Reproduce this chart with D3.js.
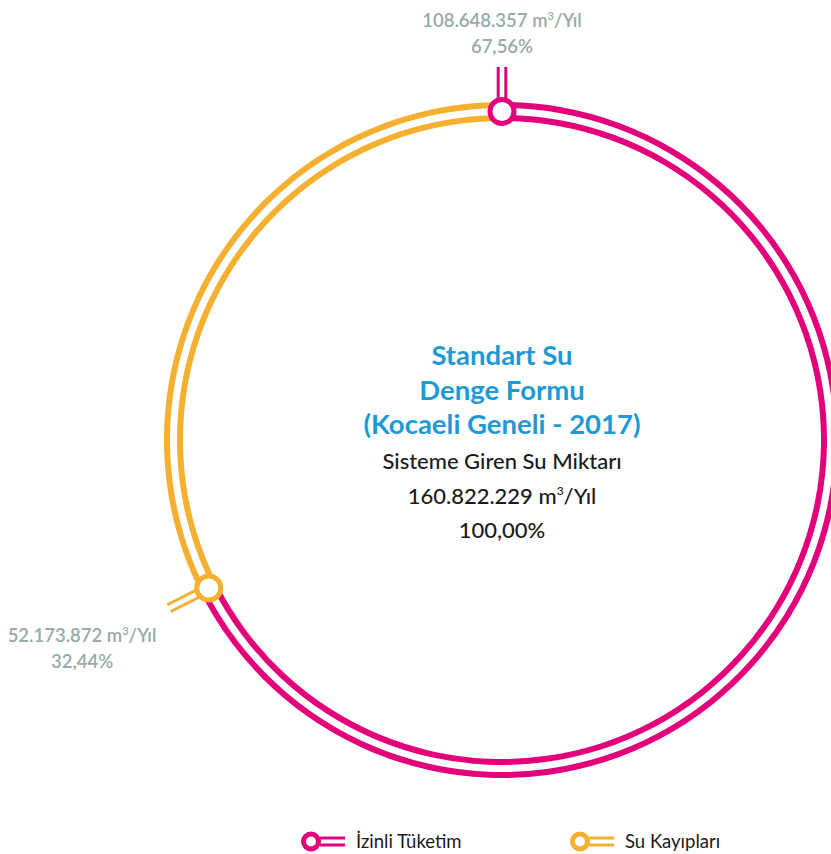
<!DOCTYPE html>
<html>
<head>
<meta charset="utf-8">
<script src="https://cdn.jsdelivr.net/npm/d3@7"></script>
<style>
  body { margin: 0; background: #fff; }
  svg text { font-family: Lato, "Noto Sans", sans-serif; }
</style>
</head>
<body>
<svg id="chart" width="831" height="854"></svg>
<script>
// water balance segments (start at top, clockwise)
const segments = ["İzinli Tüketim", "Su Kayıpları"];
const volumes = [108648357, 52173872];
const volumeLabels = ["108.648.357", "52.173.872"];
const shareLabels = ["67,56%", "32,44%"];
const colors = ["#e3007b", "#f5b031"];

const titleLines = ["Standart Su", "Denge Formu", "(Kocaeli Geneli - 2017)"];
const totalLines = ["Sisteme Giren Su Miktarı", "160.822.229", "100,00%"];

let width = 831;
let height = 854;

let cx = 502;
let cy = 440;
let rOuter = 335;
let rInner = 322;
let rNode = (rOuter + rInner) / 2;
let rTick = 373;
let band = 6;

let grey = "#98aaa9";
let blue = "#1d9ad6";
let dark = "#1a1a1a";

const svg = d3.select("#chart");

const g = svg.append("g").attr("transform", `translate(${cx},${cy})`);

const pie = d3.pie().sort(null).value(d => d)(volumes);

const arcOuter = d3.arc().innerRadius(rOuter - band / 2).outerRadius(rOuter + band / 2);
const arcInner = d3.arc().innerRadius(rInner - band / 2).outerRadius(rInner + band / 2);

pie.forEach((p, i) => {
  g.append("path").attr("d", arcOuter(p)).attr("fill", colors[i]);
  g.append("path").attr("d", arcInner(p)).attr("fill", colors[i]);
});

// point on circle for angle measured clockwise from top
const polar = (a, r) => [r * Math.sin(a), -r * Math.cos(a)];

pie.forEach((p, i) => {
  let a = p.startAngle;
  let ux = Math.sin(a), uy = -Math.cos(a);
  let px = -uy, py = ux; // perpendicular
  let off = 3.8;

  [-off, off].forEach(o => {
    let s = polar(a, rNode + 10);
    let e = polar(a, rTick);
    g.append("line")
      .attr("x1", s[0] + px * o).attr("y1", s[1] + py * o)
      .attr("x2", e[0] + px * o).attr("y2", e[1] + py * o)
      .attr("stroke", colors[i])
      .attr("stroke-width", 3);
  });

  let n = polar(a, rNode);
  g.append("circle")
    .attr("cx", n[0]).attr("cy", n[1])
    .attr("r", 12)
    .attr("fill", "#fff")
    .attr("stroke", colors[i])
    .attr("stroke-width", 5);

  // value labels
  let e = polar(a, rTick);
  let lx, ly;
  if (Math.abs(a) < 0.3) {
    lx = e[0]; ly = e[1] - 40;
  } else {
    lx = e[0] - 87; ly = e[1] + 34;
  }
  let t = g.append("text")
    .attr("x", lx).attr("y", ly)
    .attr("text-anchor", "middle")
    .attr("fill", grey)
    .attr("font-size", 18.5)
    .attr("font-weight", 600);
  t.append("tspan").text(volumeLabels[i] + " m");
  t.append("tspan").attr("font-size", 11).attr("dy", -7).text("3");
  t.append("tspan").attr("dy", 7).text("/Yıl");

  g.append("text")
    .attr("x", lx).attr("y", ly + 26)
    .attr("text-anchor", "middle")
    .attr("fill", grey)
    .attr("font-size", 18.5)
    .attr("font-weight", 600)
    .text(shareLabels[i]);
});

// centre title
titleLines.forEach((l, i) => {
  g.append("text")
    .attr("x", 0).attr("y", -75 + i * 34.5)
    .attr("text-anchor", "middle")
    .attr("fill", blue)
    .attr("font-size", 27.5)
    .attr("font-weight", 700)
    .text(l);
});

totalLines.forEach((l, i) => {
  let t = g.append("text")
    .attr("x", 0).attr("y", 29 + i * 34.5)
    .attr("text-anchor", "middle")
    .attr("fill", dark)
    .attr("font-size", 22)
    .attr("font-weight", 500);
  if (i === 1) {
    t.append("tspan").text(l + " m");
    t.append("tspan").attr("font-size", 12).attr("dy", -9).text("3");
    t.append("tspan").attr("dy", 9).text("/Yıl");
  } else {
    t.text(l);
  }
});

// legend
let legendX = [311, 580];
let legendY = 841.5;

segments.forEach((s, i) => {
  const lg = svg.append("g").attr("transform", `translate(${legendX[i]},${legendY})`);
  lg.append("circle")
    .attr("r", 7.5)
    .attr("fill", "#fff")
    .attr("stroke", colors[i])
    .attr("stroke-width", 5);
  [-3.5, 3.5].forEach(o => {
    lg.append("line")
      .attr("x1", 9).attr("x2", 34)
      .attr("y1", o).attr("y2", o)
      .attr("stroke", colors[i])
      .attr("stroke-width", 3);
  });
  lg.append("text")
    .attr("x", 45).attr("y", 6.5)
    .attr("fill", dark)
    .attr("font-size", 18.5)
    .text(s);
});
</script>
</body>
</html>
